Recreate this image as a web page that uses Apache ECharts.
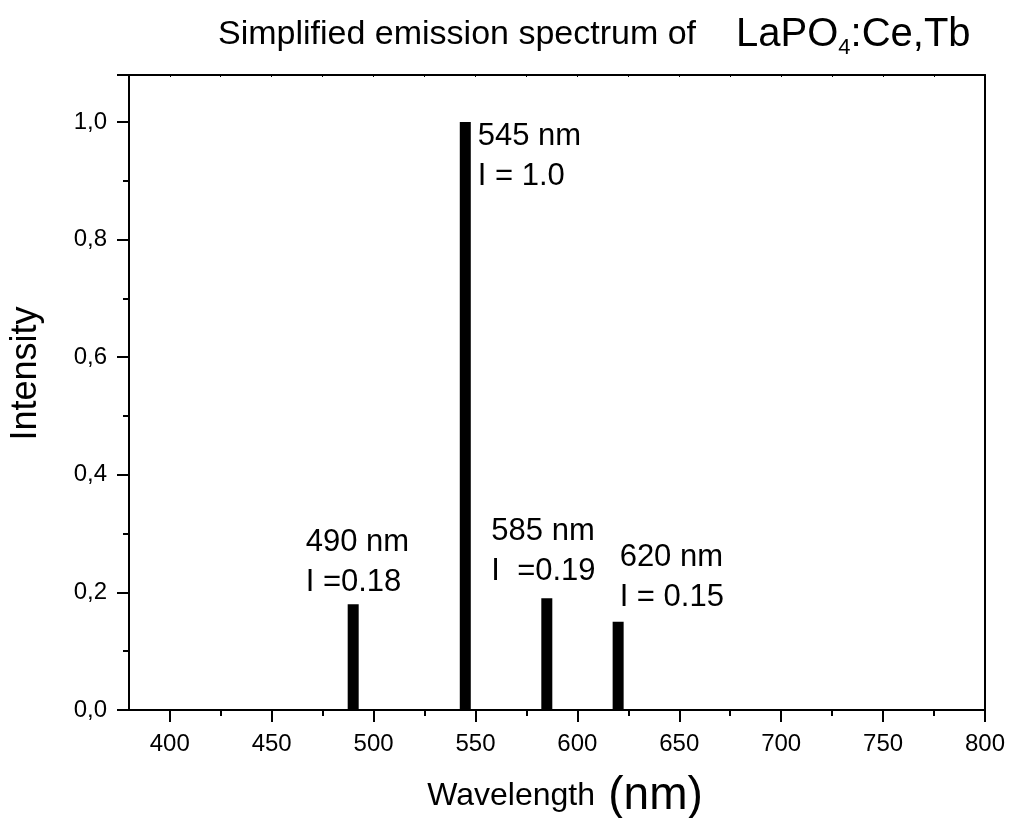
<!DOCTYPE html>
<html>
<head>
<meta charset="utf-8">
<script src="https://cdn.jsdelivr.net/npm/echarts@6/dist/echarts.min.js"></script>
<style>
  html, body { margin: 0; padding: 0; background: #fff; }
  #chart { width: 1011px; height: 818px; }
</style>
</head>
<body>
<div id="chart"></div>
<script>
// emission lines of LaPO4:Ce,Tb
const wavelengths = [490, 545, 585, 620];
const intensities = [0.18, 1.0, 0.19, 0.15];
const lineLabels = ['490 nm\nI =0.18', '545 nm\nI = 1.0', '585 nm\nI  =0.19', '620 nm\nI = 0.15'];
const xTicks = [400, 450, 500, 550, 600, 650, 700, 750, 800];
const xMinorTicks = [425, 475, 525, 575, 625, 675, 725, 775];
const yTicks = [0, 0.2, 0.4, 0.6, 0.8, 1.0];

// label placement relative to each bar's top-left corner
const labelOffsets = [[-42, -82], [18, -6], [-50, -87], [7, -84]];

const FONT = '"Liberation Sans", Arial, sans-serif';
const chart = echarts.init(document.getElementById('chart'));

const axisLine = { show: true, lineStyle: { color: '#000', width: 2 } };
const X_MIN = 380, X_MAX = 800;

chart.setOption({
  animation: false,
  textStyle: { fontFamily: FONT, color: '#000' },
  title: {
    left: 213,
    top: 6,
    text: '{a|Simplified emission spectrum of}{gap|}{b|LaPO}{s|4}{b|:Ce,Tb}',
    textStyle: {
      fontWeight: 'normal',
      rich: {
        a: { fontSize: 34, fontFamily: FONT, color: '#000', fontWeight: 'normal' },
        gap: { width: 40 },
        b: { fontSize: 40, fontFamily: FONT, color: '#000', fontWeight: 'normal' },
        s: { fontSize: 22, fontFamily: FONT, color: '#000', padding: [26, 0, 0, 0] }
      }
    }
  },
  grid: { left: 129, right: 26, top: 75, bottom: 108, outerBoundsMode: 'none', containLabel: false },
  xAxis: [{
    type: 'value',
    position: 'bottom',
    min: X_MIN,
    max: X_MAX,
    axisLine: axisLine,
    axisTick: { show: true, inside: false, length: 12, customValues: xTicks, lineStyle: { width: 2, color: '#000' } },
    splitLine: { show: false },
    axisLabel: {
      margin: 22, fontSize: 24, color: '#000', fontFamily: FONT,
      customValues: xTicks,
      formatter: v => String(v)
    },
    name: '{a|Wavelength}    {b|(nm)}',
    nameLocation: 'middle',
    nameGap: 63,
    nameTextStyle: {
      padding: [0, 0, 0, 16],
      rich: {
        a: { fontSize: 32, fontFamily: FONT, color: '#000' },
        b: { fontSize: 46, fontFamily: FONT, color: '#000' }
      }
    }
  }, {
    // minor ticks on the bottom axis
    type: 'value',
    position: 'bottom',
    offset: 0,
    min: X_MIN,
    max: X_MAX,
    axisLine: { show: false },
    axisTick: { show: true, inside: false, length: 6, customValues: xMinorTicks, lineStyle: { width: 2, color: '#000' } },
    axisLabel: { show: false },
    splitLine: { show: false }
  }, {
    // top frame
    type: 'value',
    position: 'top',
    min: X_MIN,
    max: X_MAX,
    axisLine: axisLine,
    axisTick: { show: true, inside: true, length: 2, customValues: xTicks.concat(xMinorTicks), lineStyle: { width: 1, color: '#000' } },
    axisLabel: { show: false },
    splitLine: { show: false }
  }],
  yAxis: [{
    type: 'value',
    min: 0,
    max: 1.08,
    interval: 0.2,
    axisLine: axisLine,
    axisTick: { show: true, inside: false, length: 12, lineStyle: { width: 2, color: '#000' } },
    minorTick: { show: true, splitNumber: 2, length: 6, lineStyle: { width: 2, color: '#000' } },
    splitLine: { show: false },
    axisLabel: {
      margin: 22, fontSize: 24, color: '#000', fontFamily: FONT,
      customValues: yTicks,
      formatter: v => v.toFixed(1).replace('.', ',')
    },
    name: 'Intensity',
    nameLocation: 'middle',
    nameGap: 85,
    nameTextStyle: { fontSize: 36, fontFamily: FONT, color: '#000', padding: [0, 0, 0, 38] }
  }, {
    type: 'value',
    position: 'right',
    min: 0,
    max: 1.08,
    axisLine: axisLine,
    axisTick: { show: false },
    axisLabel: { show: false },
    splitLine: { show: false }
  }],
  series: [{
    type: 'bar',
    xAxisIndex: 0,
    yAxisIndex: 0,
    barWidth: 11,
    itemStyle: { color: '#000' },
    data: wavelengths.map((w, i) => ({
      value: [w, intensities[i]],
      label: {
        show: true,
        formatter: lineLabels[i],
        position: labelOffsets[i],
        align: 'left',
        verticalAlign: 'top',
        fontSize: 31,
        lineHeight: 40,
        fontFamily: FONT,
        color: '#000'
      }
    }))
  }]
});
</script>
</body>
</html>
